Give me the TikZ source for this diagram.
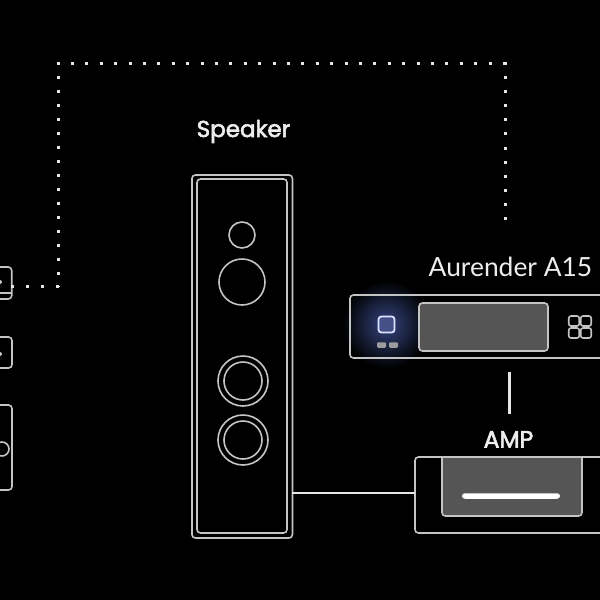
\documentclass[tikz,border=0pt]{standalone}
\usepackage{fontspec}
\setmainfont{Lato}
\newfontfamily\headfont[FakeBold=2.5]{Poppins}
\definecolor{outline}{HTML}{C4C4C4}
\definecolor{panel}{HTML}{555555}
\definecolor{halo}{HTML}{34457F}
\definecolor{powerfill}{HTML}{465088}
\definecolor{powerline}{HTML}{DCE2FF}
\begin{document}
\begin{tikzpicture}[x=1pt,y=-1pt,
	round/.style={rounded corners=1.2mm,draw=outline,line width=1.6pt,inner sep=0,outer sep=0},
	cone/.style={circle,draw=outline,line width=1.6pt,inner sep=0,outer sep=0},
	wire/.style={white!90!black,line width=2.4pt},
	dots/.style={white!90!black,line width=3pt,dash pattern=on 3pt off #1},
	tag/.style={white!93!black,inner sep=0,outer sep=0}]

	\useasboundingbox (0,0) rectangle (600,600);
	\clip (0,0) rectangle (600,600);
	\fill[black] (0,0) rectangle (600,600);

	% sources, cut off by the left edge
	\node[round,minimum width=42pt,minimum height=32pt] (srcA) at (-9.3,283) {};
	\node[round,minimum width=42pt,minimum height=31pt] (srcB) at (-9,352.5) {};
	\node[round,minimum width=42pt,minimum height=85pt] (srcC) at (-9,447.5) {};
	\draw[outline,line width=1.6pt] (srcA.west |- 0,293) -- (srcA.east |- 0,293);
	\node[circle,fill=outline,minimum size=4pt,inner sep=0] (srcAdot) at (0,282) {};
	\node[circle,fill=outline,minimum size=4pt,inner sep=0] (srcBdot) at (0,354) {};
	\node[cone,minimum size=14pt] (srcCport) at (2,449) {};

	% speaker
	\node[tag,font=\headfont\fontsize{23}{26}\selectfont,anchor=base] (speakerlabel) at (243.5,137) {Speaker};
	\node[round,minimum width=100.5pt,minimum height=363pt] (speaker) at (242.2,356.5) {};
	\node[round,minimum width=90pt,minimum height=354pt] (baffle) at (242,356) {};
	\node[cone,minimum size=26pt] (tweeter) at (242,235) {};
	\node[cone,minimum size=46pt] (mid) at (242,282) {};
	\foreach \name/\y in {upper/381,lower/440} {
		\node[cone,minimum size=50pt] (\name) at (243,\y) {};
		\node[cone,minimum size=38pt] (\name in) at (243,\y) {};
	}

	% streamer
	\shade[inner color=halo,outer color=black] (386.5,324.5) circle (44pt);
	\node[tag,font=\fontsize{26.4}{30}\selectfont,anchor=base] (a15label) at (510.5,276) {Aurender A15};
	\node[round,minimum width=319pt,minimum height=63pt] (a15) at (509.5,326.5) {};
	\node[round,fill=panel,minimum width=129pt,minimum height=48pt] (screen) at (483.5,327) {};
	\node[draw=powerline,fill=powerfill,rounded corners=1mm,line width=1.8pt,minimum size=16pt,inner sep=0] (power) at (386.5,324.5) {};
	\node[fill=outline!80!black,rounded corners=0.4mm,minimum width=9pt,minimum height=5.5pt,inner sep=0] (ledA) at (381.5,345) {};
	\node[fill=outline!80!black,rounded corners=0.4mm,minimum width=9pt,minimum height=5.5pt,inner sep=0] (ledB) at (393.5,345) {};
	\foreach \x in {574,586} \foreach \y in {321,333} {
		\node[round,rounded corners=0.8mm,minimum width=10.5pt,minimum height=10pt] (key\x\y) at (\x,\y) {};
	}

	% amp
	\node[tag,font=\headfont\fontsize{23.5}{28}\selectfont,anchor=base] (amplabel) at (508.5,447.5) {AMP};
	\node[round,minimum width=300pt,minimum height=76pt] (amp) at (565,495) {};
	\coordinate (ampwell) at (442,457);
	\draw[draw=outline,line width=1.6pt,fill=panel] (ampwell) [rounded corners=1.2mm] -- (442,516) -- (582,516) [sharp corners] -- (582,457) -- cycle;
	\node[fill=white,rounded corners=1mm,minimum width=98pt,minimum height=5.5pt,inner sep=0] (ampbar) at (511,496) {};

	% links
	\coordinate (ampin) at (415,493);
	\draw[wire] (speaker.east |- ampin) -- (ampin);
	\draw[wire,line width=2.6pt,shorten <=14pt,shorten >=17pt] (a15.south) -- (a15.south |- amplabel.north);
	\coordinate (srcout) at (10.5,286);
	\coordinate (cornerA) at (59.5,286);
	\coordinate (cornerB) at (58,61.5);
	\coordinate (cornerC) at (506.5,63);
	\coordinate (a15in) at (505,221);
	\draw[dots=11pt] (cornerB) -- (cornerB |- cornerA);
	\draw[dots=11.4pt] (cornerB |- cornerC) ++(-1.5,0) -- (cornerC);
	\draw[dots=12pt] (srcout) -- (cornerA);
	\draw[dots=11.18pt] (cornerC -| a15in) ++(0,-1.5) -- (a15in);

\end{tikzpicture}
\end{document}
